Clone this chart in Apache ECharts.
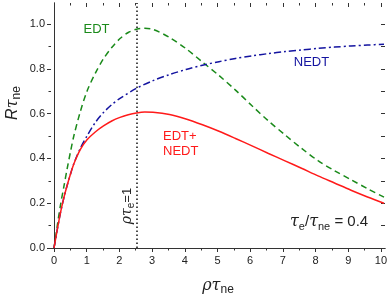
<!DOCTYPE html>
<html><head><meta charset="utf-8">
<script src="https://cdn.jsdelivr.net/npm/echarts@6/dist/echarts.min.js"></script>
<style>html,body{margin:0;padding:0;background:#fff}#c{width:390px;height:296px}</style>
</head><body><div id="c"></div>
<script>
// ---- data ----
const edtX  = [0, 0.1, 0.2, 0.3, 0.4, 0.5, 0.6, 0.8, 1.0, 1.25, 1.5, 1.75, 2.0, 2.25, 2.5, 2.75, 3.0, 3.5, 4.0, 4.5, 5.0, 5.5, 6.0, 6.5, 7.0, 7.5, 8.0, 8.5, 9.0, 9.5, 10];
const edtY  = [0, 0.1, 0.195, 0.275, 0.355, 0.43, 0.5, 0.61, 0.7, 0.78, 0.845, 0.895, 0.935, 0.962, 0.977, 0.981, 0.976, 0.94, 0.89, 0.83, 0.77, 0.705, 0.635, 0.567, 0.505, 0.445, 0.39, 0.345, 0.305, 0.265, 0.227];
const nedtX = [0, 0.1, 0.2, 0.3, 0.4, 0.5, 0.6, 0.8, 1.0, 1.25, 1.5, 1.75, 2.0, 2.5, 3.0, 3.5, 4.0, 4.5, 5.0, 5.5, 6.0, 6.5, 7.0, 7.5, 8.0, 8.5, 9.0, 9.5, 10];
const nedtY = [0, 0.083, 0.16, 0.225, 0.28, 0.33, 0.376, 0.446, 0.5, 0.56, 0.605, 0.64, 0.668, 0.713, 0.747, 0.774, 0.797, 0.816, 0.832, 0.846, 0.858, 0.868, 0.877, 0.884, 0.891, 0.897, 0.902, 0.906, 0.91];
const sumX  = [0, 0.1, 0.2, 0.3, 0.4, 0.5, 0.6, 0.8, 1.0, 1.25, 1.5, 1.75, 2.0, 2.25, 2.5, 2.75, 3.0, 3.5, 4.0, 4.5, 5.0, 5.5, 6.0, 6.5, 7.0, 7.5, 8.0, 8.5, 9.0, 9.5, 10];
const sumY  = [0, 0.083, 0.16, 0.225, 0.28, 0.33, 0.375, 0.44, 0.483, 0.518, 0.545, 0.567, 0.583, 0.595, 0.603, 0.607, 0.606, 0.596, 0.576, 0.55, 0.521, 0.489, 0.456, 0.422, 0.389, 0.356, 0.322, 0.29, 0.258, 0.228, 0.2];
const markX = 2.5;
const xTicks = [0,1,2,3,4,5,6,7,8,9,10];
const yTicks = [0.0,0.2,0.4,0.6,0.8,1.0];

const zip = (a,b)=>a.map((v,i)=>[v,b[i]]);
const chart = echarts.init(document.getElementById('c'), null, {renderer:'canvas'});
const FONT = 'Liberation Sans, Arial, sans-serif';
const axisCol = '#333';

const option = {
  animation:false,
  backgroundColor:'#fff',
  grid:[
    {left:51, right:5, top:3, bottom:48},   // frame + data
    {left:54, right:6, top:3, bottom:48},   // x ticks
    {left:51, right:5, top:24, bottom:48}   // y ticks
  ],
  xAxis:[
    {gridIndex:0, type:'value', min:-0.0909, max:10.0303, position:'bottom',
      axisLine:{show:true, lineStyle:{color:axisCol, width:1}}, axisTick:{show:false}, axisLabel:{show:false}, splitLine:{show:false}},
    {gridIndex:0, type:'value', min:-0.0909, max:10.0303, position:'top',
      axisLine:{show:true, lineStyle:{color:axisCol, width:1}}, axisTick:{show:false}, axisLabel:{show:false}, splitLine:{show:false}},
    {gridIndex:1, type:'value', min:xTicks[0], max:xTicks[xTicks.length-1], interval:1, position:'bottom',
      axisLine:{show:false}, axisTick:{show:true, inside:false, length:4, lineStyle:{color:axisCol}},
      minorTick:{show:true, splitNumber:2, length:2.5, lineStyle:{color:axisCol}},
      axisLabel:{show:true, margin:7, fontSize:11, fontFamily:FONT, color:'#222'}, splitLine:{show:false}},
    {gridIndex:1, type:'value', min:xTicks[0], max:xTicks[xTicks.length-1], interval:1, position:'top',
      axisLine:{show:false}, axisTick:{show:true, inside:true, length:4, lineStyle:{color:axisCol}},
      minorTick:{show:true, splitNumber:2, length:2.5, lineStyle:{color:axisCol}},
      axisLabel:{show:false}, splitLine:{show:false}},
    {gridIndex:2, type:'value', min:0, max:1, show:false}
  ],
  yAxis:[
    {gridIndex:0, type:'value', min:0, max:1.0938, position:'left',
      axisLine:{show:true, lineStyle:{color:axisCol, width:1}}, axisTick:{show:false}, axisLabel:{show:false}, splitLine:{show:false}},
    {gridIndex:0, type:'value', min:0, max:1.0938, position:'right',
      axisLine:{show:true, lineStyle:{color:axisCol, width:1}}, axisTick:{show:false}, axisLabel:{show:false}, splitLine:{show:false}},
    {gridIndex:1, type:'value', min:0, max:1, show:false},
    {gridIndex:2, type:'value', min:yTicks[0], max:yTicks[yTicks.length-1], interval:0.2, position:'left',
      axisLine:{show:false}, axisTick:{show:true, inside:false, length:4, lineStyle:{color:axisCol}},
      minorTick:{show:true, splitNumber:2, length:2.5, lineStyle:{color:axisCol}},
      axisLabel:{show:true, margin:6, fontSize:11, fontFamily:FONT, color:'#222', formatter:v=>v.toFixed(1)}, splitLine:{show:false}},
    {gridIndex:2, type:'value', min:0, max:1, interval:0.1, position:'right',
      axisLine:{show:false}, axisTick:{show:true, inside:true, length:4, lineStyle:{color:axisCol}},
      axisLabel:{show:false}, splitLine:{show:false}}
  ],
  series:[
    {type:'line', name:'EDT', xAxisIndex:0, yAxisIndex:0, data:zip(edtX,edtY), smooth:0.3, showSymbol:false,
      lineStyle:{color:'#1a8a1a', width:1.5, type:[6,4]}},
    {type:'line', name:'NEDT', xAxisIndex:0, yAxisIndex:0, data:zip(nedtX,nedtY), smooth:0.3, showSymbol:false,
      lineStyle:{color:'#1414a0', width:1.5, type:[7,3,2,3]}},
    {type:'line', name:'EDT+NEDT', xAxisIndex:0, yAxisIndex:0, data:zip(sumX,sumY), smooth:0.3, showSymbol:false,
      lineStyle:{color:'#ff1a1a', width:1.5, type:'solid'},
      markLine:{symbol:'none', silent:true, label:{show:false},
        lineStyle:{color:'#111', width:1.5, type:[1.5,2.5]},
        data:[[{coord:[markX,0]},{coord:[markX,1.0938]}]]}}
  ],
  graphic:[
    {type:'text', x:13, y:103, rotation:Math.PI/2, style:{
      text:'{r|R}{g|τ}{s|ne}', align:'center', verticalAlign:'middle',
      rich:{r:{fontFamily:FONT, fontStyle:'italic', fontSize:16, lineHeight:20, fill:'#222'},
            g:{fontFamily:'DejaVu Serif', fontStyle:'italic', fontSize:16, lineHeight:20, fill:'#222'},
            s:{fontFamily:FONT, fontSize:12, lineHeight:11, verticalAlign:'bottom', fill:'#222'}}}},
    {type:'text', x:218, y:286, style:{
      text:'{g|ρτ}{s|ne}', align:'center', verticalAlign:'middle',
      rich:{g:{fontFamily:'DejaVu Serif', fontStyle:'italic', fontSize:16, lineHeight:20, fill:'#222'},
            s:{fontFamily:FONT, fontSize:12, lineHeight:11, verticalAlign:'bottom', fill:'#222'}}}},
    {type:'text', x:96.5, y:29, style:{text:'EDT', align:'center', verticalAlign:'middle', font:'13px '+FONT, fill:'#1a8a1a'}},
    {type:'text', x:311.5, y:62, style:{text:'NEDT', align:'center', verticalAlign:'middle', font:'13px '+FONT, fill:'#1414a0'}},
    {type:'text', x:163, y:136, style:{text:'EDT+', align:'left', verticalAlign:'middle', font:'13px '+FONT, fill:'#ff1a1a'}},
    {type:'text', x:163, y:151, style:{text:'NEDT', align:'left', verticalAlign:'middle', font:'13px '+FONT, fill:'#ff1a1a'}},
    {type:'text', x:290, y:222, style:{
      text:'{g|τ}{s|e}{n|/}{g|τ}{s|ne}{n| = 0.4}', align:'left', verticalAlign:'middle',
      rich:{g:{fontFamily:'DejaVu Serif', fontStyle:'italic', fontSize:16, lineHeight:20, fill:'#222'},
            s:{fontFamily:FONT, fontSize:11, lineHeight:10, verticalAlign:'bottom', fill:'#222'},
            n:{fontFamily:FONT, fontSize:15, lineHeight:20, fill:'#222'}}}},
    {type:'text', x:127, y:206, rotation:Math.PI/2, style:{
      text:'{g|ρτ}{s|e}{n|=1}', align:'center', verticalAlign:'middle',
      rich:{g:{fontFamily:'DejaVu Serif', fontStyle:'italic', fontSize:14, lineHeight:18, fill:'#222'},
            s:{fontFamily:FONT, fontSize:10, lineHeight:9, verticalAlign:'bottom', fill:'#222'},
            n:{fontFamily:FONT, fontSize:13, lineHeight:18, fill:'#222'}}}}
  ]
};
chart.setOption(option);
</script>
</body></html>
